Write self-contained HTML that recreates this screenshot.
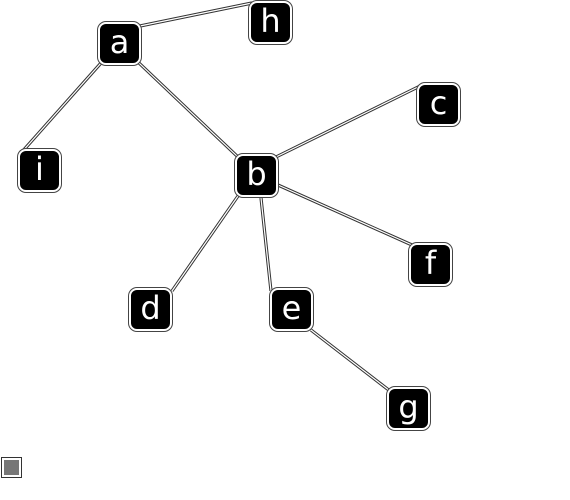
<!DOCTYPE html>
<html><head><style>
html,body{margin:0;padding:0;background:#fff;width:570px;height:500px;overflow:hidden}
.n{position:absolute;width:39px;height:39px;background:#000;border-radius:8px;border:2px solid #fff;box-shadow:0 0 0 1px #444;color:#fff;font:32px "DejaVu Sans","Liberation Sans",sans-serif;text-align:center;line-height:37px}
</style></head><body>
<svg width="570" height="500" style="position:absolute;left:0;top:0">
<g stroke="#333" stroke-width="3.2" fill="none">
<path d="M140 26L252 3M101 63L21 153M139 63L238 157M276 157L420 86M278 185L412 245M238 196L172 291M261 198L271 291M311 330L390 391"/>
</g>
<g stroke="#fff" stroke-width="1.2" fill="none">
<path d="M140 26L252 3M101 63L21 153M139 63L238 157M276 157L420 86M278 185L412 245M238 196L172 291M261 198L271 291M311 330L390 391"/>
</g>
<rect x="1.5" y="457.5" width="20" height="20" fill="#fff" stroke="#333"/>
<rect x="4" y="460" width="15" height="15" fill="#777"/>
</svg>
<div class="n" style="left:98px;top:22px">a</div>
<div class="n" style="left:249px;top:1px">h</div>
<div class="n" style="left:417px;top:83px">c</div>
<div class="n" style="left:18px;top:149px">i</div>
<div class="n" style="left:235px;top:154px">b</div>
<div class="n" style="left:409px;top:243px">f</div>
<div class="n" style="left:129px;top:288px">d</div>
<div class="n" style="left:270px;top:288px">e</div>
<div class="n" style="left:387px;top:387px">g</div>
</body></html>
